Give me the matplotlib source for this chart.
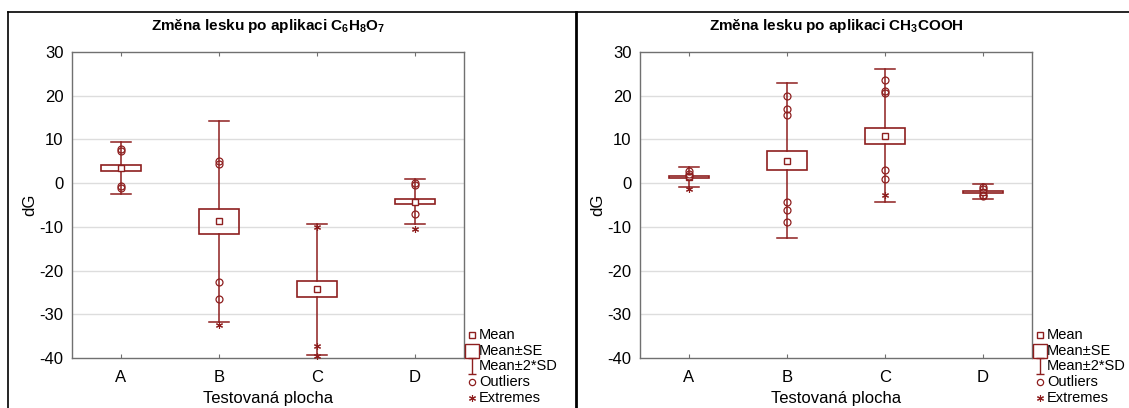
import matplotlib
matplotlib.use("Agg")
import matplotlib.pyplot as plt
from matplotlib.patches import Rectangle
from matplotlib.lines import Line2D
from matplotlib.path import Path

plt.rcParams['font.family'] = ['Liberation Sans', 'DejaVu Sans']
plt.rcParams['mathtext.fontset'] = 'custom'
plt.rcParams['mathtext.rm'] = 'Liberation Sans:bold'
plt.rcParams['mathtext.default'] = 'rm'
plt.rcParams['axes.unicode_minus'] = False

# ---------------- data ----------------
categories = ['A', 'B', 'C', 'D']
y_ticks = [30, 20, 10, 0, -10, -20, -30, -40]

title_left = 'Změna lesku po aplikaci C$_6$H$_8$O$_7$'
mean_left = [3.55, -8.7, -24.3, -4.2]
se_left = [0.7, 2.85, 1.85, 0.6]
sd2_left = [5.95, 23.0, 15.05, 5.1]
outliers_left = [[7.8, 7.3, -0.6, -1.0], [5.0, 4.3, -22.6, -26.5], [], [0.0, -0.5, -7.1]]
extremes_left = [[], [-32.4], [-10.0, -37.3, -39.6], [-10.6]]

title_right = 'Změna lesku po aplikaci CH$_3$COOH'
mean_right = [1.4, 5.15, 10.8, -2.0]
se_right = [0.3, 2.2, 1.9, 0.3]
sd2_right = [2.2, 17.65, 15.2, 1.7]
outliers_right = [[2.7, 2.2, 1.6], [20.0, 16.9, 15.6, -4.4, -6.1, -8.9],
                  [23.5, 21.0, 20.7, 3.1, 1.0], [-0.8, -1.3, -2.6, -3.0]]
extremes_right = [[-1.3], [], [-2.7], []]

legend_labels = ['Mean', 'Mean±SE', 'Mean±2*SD', 'Outliers', 'Extremes']
xlabel = 'Testovaná plocha'
ylabel = 'dG'

# ---------------- style ----------------
W, H = 1129, 408
RED = '#8E1F1F'
fig = plt.figure(figsize=(W / 100, H / 100), dpi=100)


def fx(x):
    return x / W


def fy(y):
    return 1 - y / H


ibeam = Path([(-0.45, 1), (0.45, 1), (0, 1), (0, -1), (-0.45, -1), (0.45, -1)],
             [Path.MOVETO, Path.LINETO, Path.MOVETO, Path.LINETO, Path.MOVETO, Path.LINETO])


def panel(left_px, title, means, ses, sd2s, outs, exts):
    ax = fig.add_axes([fx(left_px), fy(358), 392 / W, 306 / H])
    x = list(range(len(categories)))
    ax.set_xlim(-0.5, len(categories) - 0.5)
    ax.set_ylim(-40, 30)
    ax.set_yticks(y_ticks)
    ax.set_xticks(x)
    ax.set_xticklabels(categories)
    ax.tick_params(axis='y', length=0, pad=6, labelsize=12)
    ax.tick_params(axis='x', direction='in', length=3, top=True, pad=9,
                   labelsize=12, color='#707070')
    for s in ax.spines.values():
        s.set_color('#707070')
        s.set_linewidth(1.0)
    for t in y_ticks[1:-1]:
        ax.axhline(t, color='#DDDDDD', lw=1.0, zorder=0)
    fig.text(fx(left_px + 196), fy(398), xlabel, ha='center', va='center', fontsize=12)
    fig.text(fx(left_px - 42), fy(205), ylabel, ha='center', va='center',
             fontsize=12, rotation=90)
    bw, cw = 0.4, 0.2
    for i in x:
        m, se, d = means[i], ses[i], sd2s[i]
        ax.plot([i, i], [m - d, m - se], color=RED, lw=1.1, zorder=2)
        ax.plot([i, i], [m + se, m + d], color=RED, lw=1.1, zorder=2)
        ax.plot([i - cw / 2, i + cw / 2], [m + d, m + d], color=RED, lw=1.1, zorder=2)
        ax.plot([i - cw / 2, i + cw / 2], [m - d, m - d], color=RED, lw=1.1, zorder=2)
        ax.add_patch(Rectangle((i - bw / 2, m - se), bw, 2 * se, fill=False,
                               ec=RED, lw=1.2, zorder=3))
        ax.plot([i], [m], marker='s', ms=5, mfc='white', mec=RED, mew=1.0, zorder=4)
        if outs[i]:
            ax.plot([i] * len(outs[i]), outs[i], ls='none', marker='o', ms=5,
                    mfc='none', mec=RED, mew=0.9, zorder=4, clip_on=False)
        if exts[i]:
            ax.plot([i] * len(exts[i]), exts[i], ls='none', marker=(6, 2, 0), ms=5,
                    mec=RED, mew=0.8, zorder=4, clip_on=False)
    fig.text(fx(left_px + 196), fy(30), title, ha='center', va='baseline',
             fontsize=11, fontweight='bold')
    # legend
    r = left_px + 392
    rows = [335, 351, 366, 382, 398]
    mk = [dict(marker='s', ms=4.5, mfc='white', mec=RED, mew=1.0),
          dict(marker='s', ms=10, mfc='white', mec=RED, mew=1.0),
          dict(marker=ibeam, ms=12, mfc='none', mec=RED, mew=1.0),
          dict(marker='o', ms=4.5, mfc='none', mec=RED, mew=0.9),
          dict(marker=(6, 2, 0), ms=5, mec=RED, mew=0.8)]
    for yy, lab, kw in zip(rows, legend_labels, mk):
        fig.add_artist(Line2D([fx(r + 8)], [fy(yy)], transform=fig.transFigure,
                              ls='none', **kw))
        fig.text(fx(r + 15), fy(yy), lab, ha='left', va='center', fontsize=10.5)
    return ax


panel(72, title_left, mean_left, se_left, sd2_left, outliers_left, extremes_left)
panel(640, title_right, mean_right, se_right, sd2_right, outliers_right, extremes_right)

# outer frames
frame = dict(transform=fig.transFigure, color='black')
fig.add_artist(Line2D([fx(8), fx(8)], [fy(11.5), 0], lw=1.2, **frame))
fig.add_artist(Line2D([fx(8), fx(1129)], [fy(11.5), fy(11.5)], lw=1.2, **frame))
fig.add_artist(Line2D([fx(575.7), fx(575.7)], [fy(11.5), 0], lw=2.0, **frame))

fig.savefig('out.png', dpi=100)
